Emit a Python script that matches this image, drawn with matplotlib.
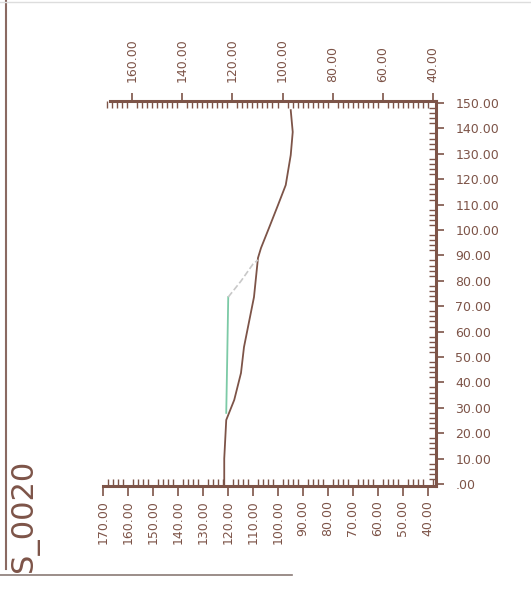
import matplotlib
matplotlib.use("Agg")
import matplotlib.pyplot as plt
from matplotlib.ticker import MultipleLocator

# main log curve (value, depth)
curve_val = [94.9, 94.1, 94.9, 96.9, 100.0, 103.6, 106.8, 108.0, 109.6, 113.6, 114.8, 117.5, 120.7, 121.5, 121.5]
curve_depth = [147.2, 138.6, 129.5, 117.7, 109.8, 100.8, 92.9, 89.0, 73.6, 53.9, 43.7, 33.1, 25.2, 10.0, -0.8]

# green segment and faded connector
green_val = [119.9, 120.3, 120.7]
green_depth = [73.6, 50.0, 28.0]
link_val = [119.9, 114.8, 110.0, 108.0]
link_depth = [73.6, 79.9, 86.6, 88.2]

bottom_ticks = [170, 160, 150, 140, 130, 120, 110, 100, 90, 80, 70, 60, 50, 40]
top_ticks = [160, 140, 120, 100, 80, 60, 40]
depth_ticks = [0, 10, 20, 30, 40, 50, 60, 70, 80, 90, 100, 110, 120, 130, 140, 150]
depth_labels = [".00"] + ["%.2f" % d for d in depth_ticks[1:]]

brown = "#7d5448"
green = "#7ccaa6"

fig = plt.figure(figsize=(5.31, 5.93), dpi=100)
ax = fig.add_axes([0.194, 0.1804, 0.627, 0.6493])

ax.plot(curve_val, curve_depth, color=brown, lw=1.3)
ax.plot(green_val, green_depth, color=green, lw=1.3)
ax.plot(link_val, link_depth, color="#c8c8c8", lw=1.2, ls="--")

ax.set_xlim(169.2, 36.8)
ax.set_ylim(-0.8, 150.8)

for s in ["left", "top"]:
    ax.spines[s].set_visible(False)
for s in ["right", "bottom"]:
    ax.spines[s].set_color(brown)
    ax.spines[s].set_linewidth(2.2)

ax.yaxis.tick_right()
ax.set_yticks(depth_ticks)
ax.set_yticklabels(depth_labels)
ax.yaxis.set_minor_locator(MultipleLocator(2))
ax.tick_params(axis="y", which="major", direction="out", length=6, width=1.2,
               color=brown, labelcolor=brown, labelsize=9, pad=8)
ax.tick_params(axis="y", which="minor", direction="in", length=5, width=1, color=brown)

ax.set_xticks(bottom_ticks)
ax.set_xticklabels(["%.2f" % v for v in bottom_ticks], rotation=90)
ax.xaxis.set_minor_locator(MultipleLocator(2))
ax.tick_params(axis="x", which="major", direction="out", length=7, width=1.2,
               color=brown, labelcolor=brown, labelsize=9, pad=3)
ax.tick_params(axis="x", which="minor", direction="in", length=5, width=1, color=brown)

ax2 = ax.twiny()
ax2.set_xlim(171.6, 38.8)
for s in ["left", "right", "bottom"]:
    ax2.spines[s].set_visible(False)
ax2.spines["top"].set_color(brown)
ax2.spines["top"].set_linewidth(2.2)
ax2.spines["top"].set_bounds(38.8, 168.8)
ax2.set_xticks(top_ticks)
ax2.set_xticklabels(["%.2f" % v for v in top_ticks], rotation=90)
ax2.xaxis.set_minor_locator(MultipleLocator(2))
ax2.tick_params(axis="x", which="major", direction="out", length=6, width=1.2,
                color=brown, labelcolor=brown, labelsize=9, pad=8)
ax2.tick_params(axis="x", which="minor", direction="in", length=5, width=1, color=brown)

fig.text(0.047, 0.13, "S_0020", rotation=90, fontsize=22, color=brown,
         ha="center", va="center")

# scan page borders
fig.add_artist(plt.Line2D([0.012, 0.012], [0.04, 1.0], color="#8a6a62", lw=1.5))
fig.add_artist(plt.Line2D([0.0, 0.55], [0.03, 0.03], color="#8a7a76", lw=1.2))
fig.add_artist(plt.Line2D([0.0, 1.0], [0.997, 0.997], color="#dddddd", lw=1.0))

fig.savefig("out.png", dpi=100, facecolor="white")
